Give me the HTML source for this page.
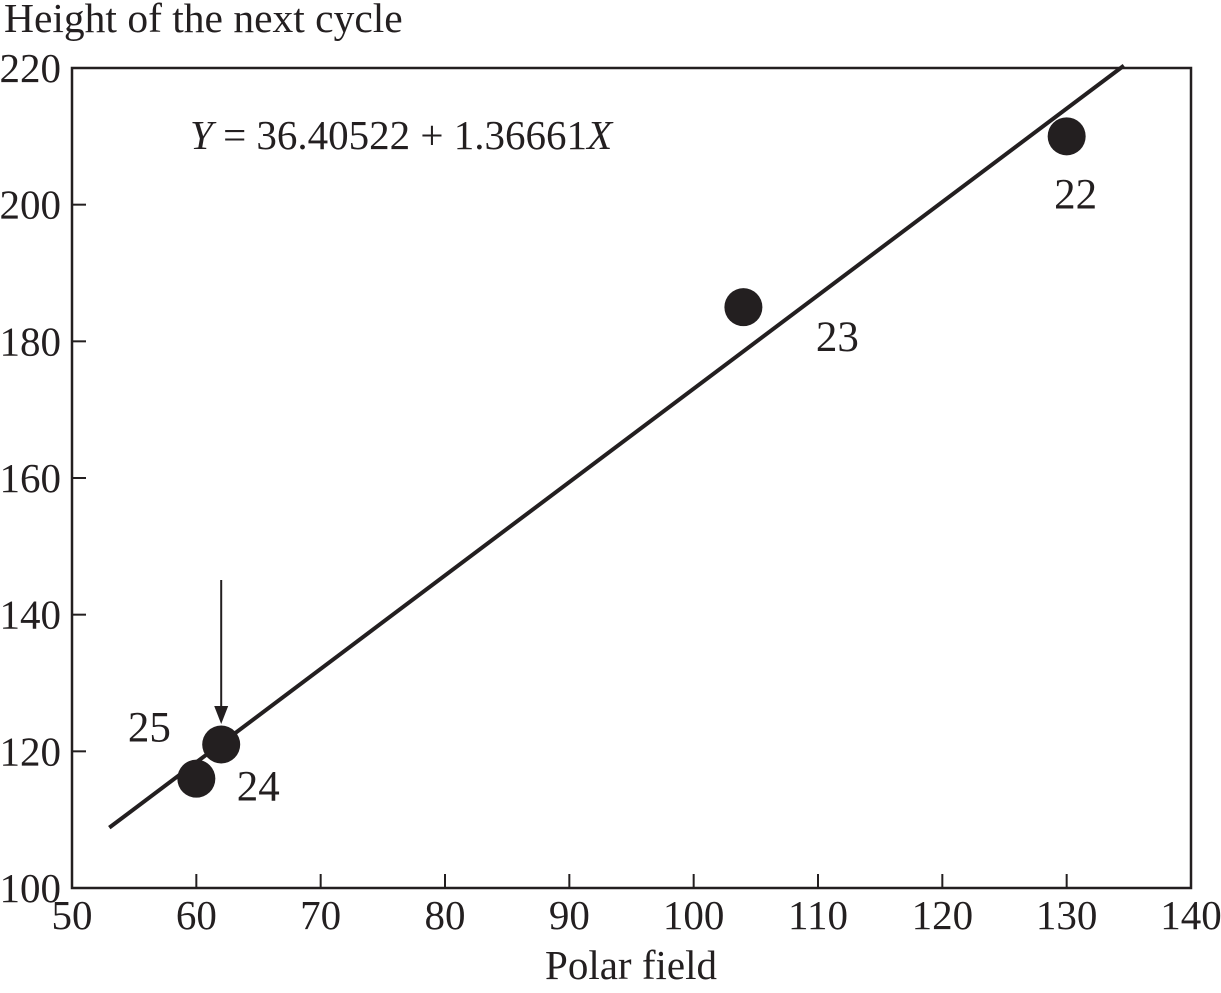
<!DOCTYPE html>
<html><head><meta charset="utf-8"><style>
html,body{margin:0;padding:0;background:#fff;}
svg{display:block;font-family:"Liberation Serif",serif;fill:#231f20;}
</style></head><body>
<svg id="chart" width="1221" height="993" viewBox="0 0 1221 993" xmlns="http://www.w3.org/2000/svg">
<g id="g"></g>
</svg>
<script>
const cycles = ["22","23","24","25"];
const polarField = [130, 104, 62, 60];
const height = [210, 185, 121, 116];
const xTicks = [50,60,70,80,90,100,110,120,130,140];
const yTicks = [100,120,140,160,180,200,220];
const intercept = 36.40522, slope = 1.36661;
const lineRange = [53, 134.6];

const L=72,R=1191,T=68,B=888;
const sx=v=>L+(v-50)/(140-50)*(R-L);
const sy=v=>B-(v-100)/(220-100)*(B-T);
const g=document.getElementById('g');
const NS='http://www.w3.org/2000/svg';
function mk(t,a,txt){const e=document.createElementNS(NS,t);for(const k in a)e.setAttribute(k,a[k]);if(txt!=null)e.textContent=txt;g.appendChild(e);return e;}

let e=mk('rect',{x:L,y:T,width:R-L,height:B-T,fill:'none',stroke:'#231f20','stroke-width':2.5});



xTicks.forEach(v=>{
  const t=mk('line',{x1:sx(v),x2:sx(v),y1:B,y2:B-14,stroke:'#231f20','stroke-width':2});
  
  
  const l=mk('text',{x:sx(v),y:929,'font-size':41,'text-anchor':'middle'},v);
  
  
});
yTicks.forEach(v=>{
  const t=mk('line',{x1:L,x2:L+14,y1:sy(v),y2:sy(v),stroke:'#231f20','stroke-width':2});
  
  
  const l=mk('text',{x:61,y:sy(v)+14,'font-size':41,'text-anchor':'end'},v);
  
  
});

e=mk('line',{x1:sx(lineRange[0]),y1:sy(intercept+slope*lineRange[0]),x2:sx(lineRange[1]),y2:sy(intercept+slope*lineRange[1]),stroke:'#231f20','stroke-width':4});



const labOff=[[9,72],[94,44],[37,56],[-47,-37]];
polarField.forEach((x,i)=>{
  const c=mk('circle',{cx:sx(x),cy:sy(height[i]),r:19,fill:'#231f20'});
  
  
  const t=mk('text',{x:sx(x)+labOff[i][0],y:sy(height[i])+labOff[i][1],'font-size':43,'text-anchor':'middle'},cycles[i]);
  
  
});

e=mk('line',{x1:sx(62),x2:sx(62),y1:580,y2:712,stroke:'#231f20','stroke-width':2});


e=mk('polygon',{points:`${sx(62)-7},706 ${sx(62)+7},706 ${sx(62)},724`,fill:'#231f20'});



e=mk('text',{x:4,y:32,'font-size':41.5},'Height of the next cycle');


e=mk('text',{x:631,y:979,'font-size':41,'text-anchor':'middle'},'Polar field');


e=mk('text',{x:190,y:149,'font-size':41});


e.innerHTML='<tspan font-style="italic">Y</tspan> = 36.40522 + 1.36661<tspan font-style="italic">X</tspan>';
</script>
</body></html>
